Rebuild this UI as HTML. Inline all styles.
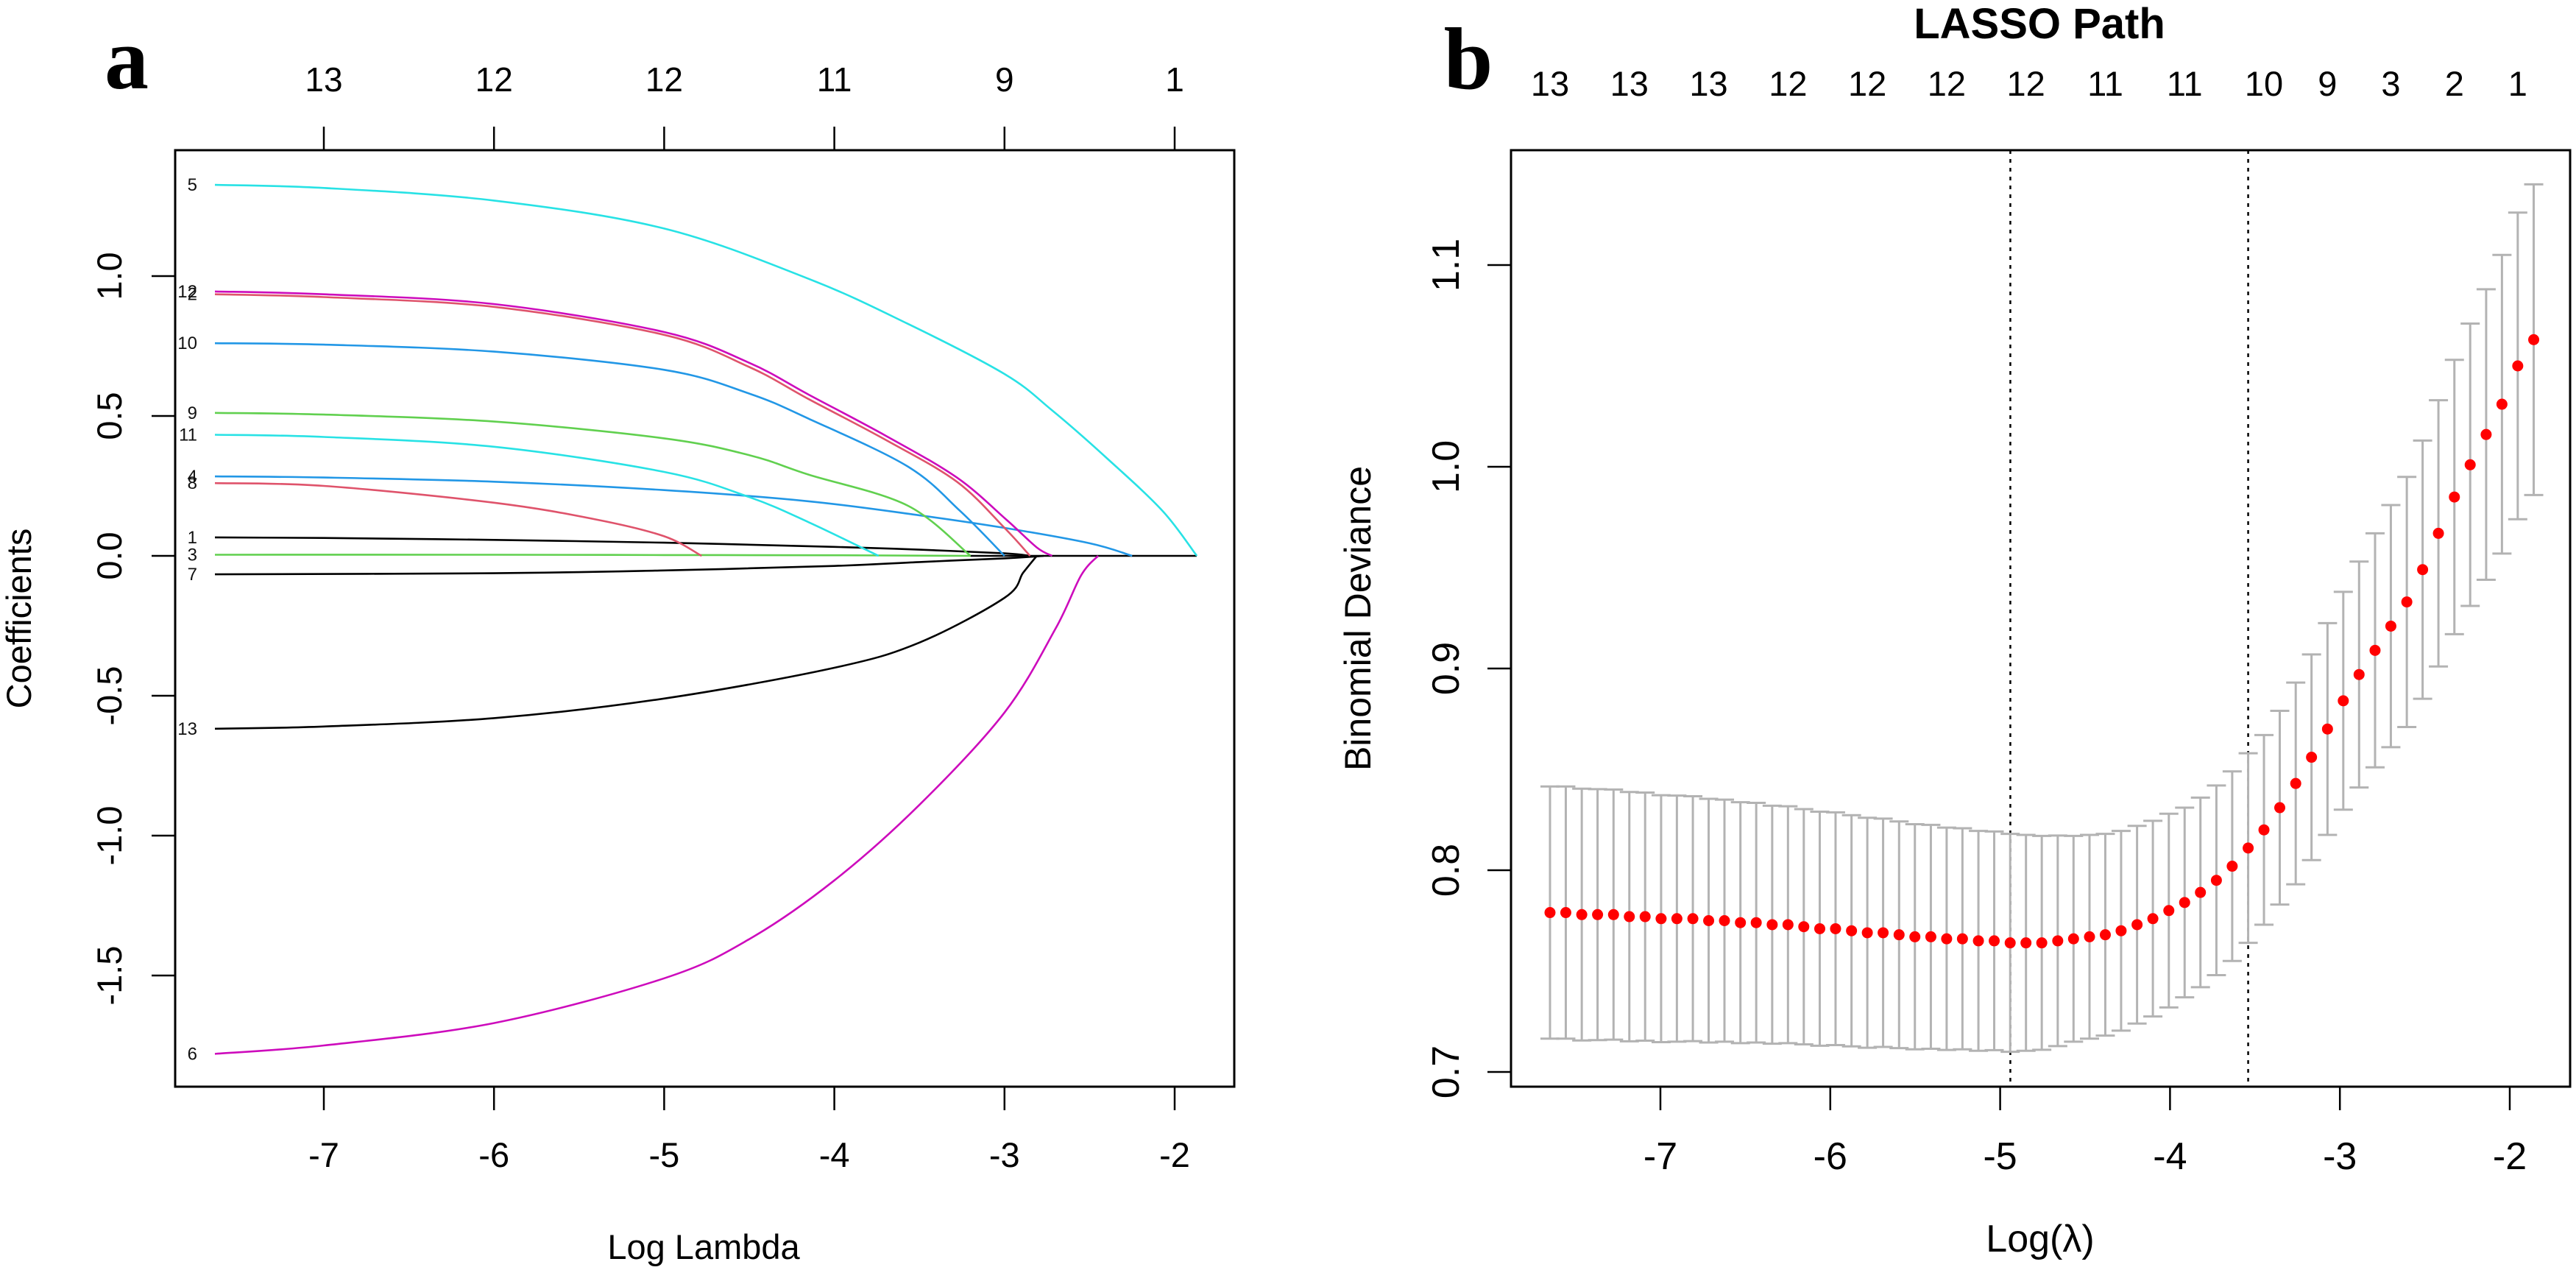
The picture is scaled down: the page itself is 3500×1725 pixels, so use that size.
<!DOCTYPE html>
<html><head><meta charset="utf-8">
<style>
html,body{margin:0;padding:0;background:#fff;}
svg{display:block;font-family:"Liberation Sans",Arial,sans-serif;}
</style></head>
<body>
<svg id="fig" width="3500" height="1725" viewBox="0 0 3500 1725" xmlns="http://www.w3.org/2000/svg">
<rect width="3500" height="1725" fill="#fff"/>
<g id="pa"></g>
<g id="pb"></g>
</svg>
<script>
// ===== Panel a data =====
const varIds = [5,12,2,10,9,11,4,8,1,3,7,13,6];
const varColors = ["#28E2E5","#CD0BBC","#DF536B","#2297E6","#61D04F","#28E2E5","#2297E6","#DF536B","#000000","#61D04F","#000000","#000000","#CD0BBC"];
const pathX = [
 [-7.64,-7,-6,-5,-4.15,-3.57,-3,-2.72,-2.4,-2.07,-1.87],
 [-7.64,-7,-6,-5,-4.5,-4.15,-3.7,-3.28,-2.99,-2.81,-2.72],
 [-7.64,-7,-6,-5,-4.5,-4.15,-3.7,-3.28,-3.0,-2.85],
 [-7.64,-7,-6,-5,-4.5,-4.15,-3.57,-3.26,-3.0],
 [-7.64,-7,-6,-5,-4.5,-4.15,-3.57,-3.2],
 [-7.64,-7,-6,-5,-4.5,-4.15,-3.74],
 [-7.64,-7,-6,-5,-4.15,-3.5,-3.0,-2.5,-2.25],
 [-7.64,-7,-6,-5.4,-5,-4.78],
 [-7.64,-7,-6,-5,-4,-3.5,-3,-2.85],
 [-7.64,-6,-5,-4,-3.2],
 [-7.64,-6,-5,-4,-3.5,-3,-2.77],
 [-7.64,-7,-6,-5,-4,-3.5,-3,-2.89,-2.81],
 [-7.64,-7,-6,-5,-4.5,-4,-3.5,-3,-2.7,-2.55,-2.45]
];
const pathY = [
 [1.326,1.315,1.27,1.17,0.99,0.83,0.65,0.52,0.35,0.16,0],
 [0.945,0.935,0.90,0.80,0.69,0.576,0.43,0.28,0.13,0.03,0],
 [0.935,0.925,0.89,0.79,0.675,0.56,0.415,0.265,0.10,0],
 [0.76,0.755,0.73,0.665,0.58,0.49,0.32,0.16,0],
 [0.511,0.505,0.48,0.42,0.36,0.29,0.18,0],
 [0.433,0.425,0.39,0.30,0.21,0.12,0],
 [0.284,0.28,0.265,0.235,0.195,0.145,0.10,0.045,0],
 [0.26,0.25,0.19,0.13,0.07,0],
 [0.066,0.064,0.057,0.047,0.032,0.022,0.009,0],
 [0.004,0.004,0.003,0.002,0],
 [-0.066,-0.062,-0.052,-0.036,-0.022,-0.009,0],
 [-0.618,-0.61,-0.58,-0.51,-0.40,-0.31,-0.15,-0.06,0],
 [-1.78,-1.75,-1.67,-1.51,-1.37,-1.16,-0.89,-0.56,-0.26,-0.07,0]
];
const aXTicks = [-7,-6,-5,-4,-3,-2];
const aTopLabels = ["13","12","12","11","9","1"];
const aYTicks = [1.0,0.5,0.0,-0.5,-1.0,-1.5];
const aYTickLabels = ["1.0","0.5","0.0","-0.5","-1.0","-1.5"];
const aZeroEnd = -1.87;

// ===== Panel b data =====
const logLambda = [-7.650,-7.557,-7.463,-7.370,-7.276,-7.183,-7.090,-6.996,-6.903,-6.809,
 -6.716,-6.623,-6.529,-6.436,-6.342,-6.249,-6.156,-6.062,-5.969,-5.875,
 -5.782,-5.689,-5.595,-5.502,-5.408,-5.315,-5.222,-5.128,-5.035,-4.941,
 -4.848,-4.755,-4.661,-4.568,-4.474,-4.381,-4.288,-4.194,-4.101,-4.007,
 -3.914,-3.821,-3.727,-3.634,-3.540,-3.447,-3.354,-3.260,-3.167,-3.073,
 -2.980,-2.887,-2.793,-2.700,-2.606,-2.513,-2.420,-2.326,-2.233,-2.139,
 -2.046,-1.953,-1.859];
const cvMean = [0.779,0.779,0.778,0.778,0.778,0.777,0.777,0.776,0.776,0.776,
 0.775,0.775,0.774,0.774,0.773,0.773,0.772,0.771,0.771,0.770,
 0.769,0.769,0.768,0.767,0.767,0.766,0.766,0.765,0.765,0.764,
 0.764,0.764,0.765,0.766,0.767,0.768,0.770,0.773,0.776,0.780,
 0.784,0.789,0.795,0.802,0.811,0.820,0.831,0.843,0.856,0.870,
 0.884,0.897,0.909,0.921,0.933,0.949,0.967,0.985,1.001,1.016,
 1.031,1.050,1.063];
const cvSE = [0.0625,0.0625,0.0624,0.0622,0.062,0.0618,0.0615,0.0612,0.061,0.0607,
 0.0604,0.06,0.0597,0.0594,0.059,0.0587,0.0583,0.058,0.0577,0.0573,
 0.057,0.0566,0.0562,0.0558,0.0555,0.0551,0.0548,0.0545,0.0542,0.054,
 0.0535,0.053,0.0522,0.051,0.0505,0.050,0.0495,0.049,0.0485,0.048,
 0.047,0.047,0.047,0.047,0.047,0.047,0.048,0.050,0.051,0.0525,
 0.054,0.056,0.058,0.060,0.062,0.064,0.066,0.068,0.070,0.072,
 0.074,0.076,0.077];
const topIdx = [0,5,10,15,20,25,30,35,40,45,49,53,57,61];
const topCounts = ["13","13","13","12","12","12","12","11","11","10","9","3","2","1"];
const bXTicks = [-7,-6,-5,-4,-3,-2];
const bYTicks = [0.7,0.8,0.9,1.0,1.1];
const bYTickLabels = ["0.7","0.8","0.9","1.0","1.1"];
const lambdaMin = -4.94;
const lambda1se = -3.54;

// ===== helpers =====
const NS = "http://www.w3.org/2000/svg";
function mk(parent, tag, attrs, text){
  const e = document.createElementNS(NS, tag);
  for (const k in attrs) e.setAttribute(k, attrs[k]);
  if (text !== undefined) e.textContent = text;
  parent.appendChild(e);
  return e;
}
function smoothPath(P){
  let d = `M${P[0][0].toFixed(1)},${P[0][1].toFixed(1)}`;
  for (let i=0;i<P.length-1;i++){
    const p0 = P[i-1]||P[i], p1=P[i], p2=P[i+1], p3=P[i+2]||P[i+1];
    const t = 1/6;
    const c1 = [p1[0]+(p2[0]-p0[0])*t, p1[1]+(p2[1]-p0[1])*t];
    const c2 = [p2[0]-(p3[0]-p1[0])*t, p2[1]-(p3[1]-p1[1])*t];
    d += `C${c1[0].toFixed(1)},${c1[1].toFixed(1)} ${c2[0].toFixed(1)},${c2[1].toFixed(1)} ${p2[0].toFixed(1)},${p2[1].toFixed(1)}`;
  }
  return d;
}

// ===== Panel a =====
const A = {l:238, r:1677, t:204, b:1476};
const xa = v => 440 + 231.2*(v + 7);
const ya = v => 755 - 380*v;
const pa = document.getElementById('pa');

const defs = mk(pa,'defs',{});
const cp = mk(defs,'clipPath',{id:'clipA'});
mk(cp,'rect',{x:A.l,y:A.t,width:A.r-A.l,height:A.b-A.t});

const linesG = mk(pa,'g',{'clip-path':'url(#clipA)'});


const zl = mk(linesG,'line',{x1:xa(-3.2),x2:xa(aZeroEnd),y1:ya(0),y2:ya(0),stroke:'#000','stroke-width':2.5});


for (let i = varIds.length-1; i >= 0; i--){
  const P = pathX[i].map((x,j)=>[xa(x), ya(pathY[i][j])]);
  const pl = mk(linesG,'path',{d:smoothPath(P),fill:'none',stroke:varColors[i],'stroke-width':2.6,'stroke-linejoin':'round'});
  
  
  const lb = mk(linesG,'text',{x:268,y:ya(pathY[i][0])+8,'font-size':24,'text-anchor':'end',fill:'#111'},String(varIds[i]));
  
  
}
const boxA = mk(pa,'rect',{x:A.l,y:A.t,width:A.r-A.l,height:A.b-A.t,fill:'none',stroke:'#000','stroke-width':3});


aXTicks.forEach((v,i)=>{
  const tb = mk(pa,'line',{x1:xa(v),x2:xa(v),y1:A.b,y2:A.b+32,stroke:'#000','stroke-width':2.5});
  
  
  const tl = mk(pa,'text',{x:xa(v),y:1585,'font-size':47,'text-anchor':'middle'},String(v));
  
  
  const tt = mk(pa,'line',{x1:xa(v),x2:xa(v),y1:A.t,y2:A.t-32,stroke:'#000','stroke-width':2.5});
  
  
  const tn = mk(pa,'text',{x:xa(v),y:124,'font-size':46,'text-anchor':'middle'},aTopLabels[i]);
  
  
});
aYTicks.forEach((v,i)=>{
  const t = mk(pa,'line',{x1:A.l,x2:A.l-32,y1:ya(v),y2:ya(v),stroke:'#000','stroke-width':2.5});
  
  
  const tl = mk(pa,'text',{x:0,y:0,'font-size':47,'text-anchor':'middle',transform:`translate(165,${ya(v)}) rotate(-90)`},aYTickLabels[i]);
  
  
});
const axA = mk(pa,'text',{x:956,y:1710,'font-size':47,'text-anchor':'middle'},'Log Lambda');


const ayA = mk(pa,'text',{x:0,y:0,'font-size':47,'text-anchor':'middle',transform:'translate(42,840) rotate(-90)'},'Coefficients');


const la = mk(pa,'text',{x:172,y:120,'font-size':120,'font-weight':'bold','font-family':'"Liberation Serif",serif','text-anchor':'middle'},'a');



// ===== Panel b =====
const B = {l:2053, r:3492, t:204, b:1476};
const xb = v => 2256 + 230.8*(v + 7);
const yb = v => 1182 - 2740*(v - 0.8);
const pb = document.getElementById('pb');

[lambdaMin, lambda1se].forEach((v,i)=>{
  const d = mk(pb,'line',{x1:xb(v),x2:xb(v),y1:B.t,y2:B.b,stroke:'#000','stroke-width':2.5,'stroke-dasharray':'5,7'});
  
  
});
const barsG = mk(pb,'g',{stroke:'#b3b3b3','stroke-width':3});


const ptsG = mk(pb,'g',{fill:'#ff0000'});


logLambda.forEach((v,i)=>{
  const x = xb(v), hi = yb(cvMean[i]+cvSE[i]), lo = yb(cvMean[i]-cvSE[i]);
  const eb = mk(barsG,'path',{d:`M${x},${hi}V${lo}M${x-13},${hi}H${x+13}M${x-13},${lo}H${x+13}`,fill:'none'});
  
  
  const c = mk(ptsG,'circle',{cx:x,cy:yb(cvMean[i]),r:7.5});
  
  
});
const boxB = mk(pb,'rect',{x:B.l,y:B.t,width:B.r-B.l,height:B.b-B.t,fill:'none',stroke:'#000','stroke-width':3});


bXTicks.forEach(v=>{
  const t = mk(pb,'line',{x1:xb(v),x2:xb(v),y1:B.b,y2:B.b+32,stroke:'#000','stroke-width':2.5});
  
  
  const tl = mk(pb,'text',{x:xb(v),y:1588,'font-size':52,'text-anchor':'middle'},String(v));
  
  
});
bYTicks.forEach((v,i)=>{
  const t = mk(pb,'line',{x1:B.l,x2:B.l-32,y1:yb(v),y2:yb(v),stroke:'#000','stroke-width':2.5});
  
  
  const tl = mk(pb,'text',{x:0,y:0,'font-size':52,'text-anchor':'middle',transform:`translate(1982,${yb(v)}) rotate(-90)`},bYTickLabels[i]);
  
  
});
topIdx.forEach((idx,i)=>{
  const t = mk(pb,'text',{x:xb(logLambda[idx]),y:130,'font-size':47,'text-anchor':'middle'},topCounts[i]);
  
  
});
const ttl = mk(pb,'text',{x:2771,y:52,'font-size':58,'font-weight':'bold','text-anchor':'middle'},'LASSO Path');


const axB = mk(pb,'text',{x:2772,y:1700,'font-size':52,'text-anchor':'middle'},'Log(λ)');


const ayB = mk(pb,'text',{x:0,y:0,'font-size':50,'text-anchor':'middle',transform:'translate(1862,840) rotate(-90)'},'Binomial Deviance');


const lbB = mk(pb,'text',{x:1995,y:120,'font-size':120,'font-weight':'bold','font-family':'"Liberation Serif",serif','text-anchor':'middle'},'b');


</script>
</body></html>
